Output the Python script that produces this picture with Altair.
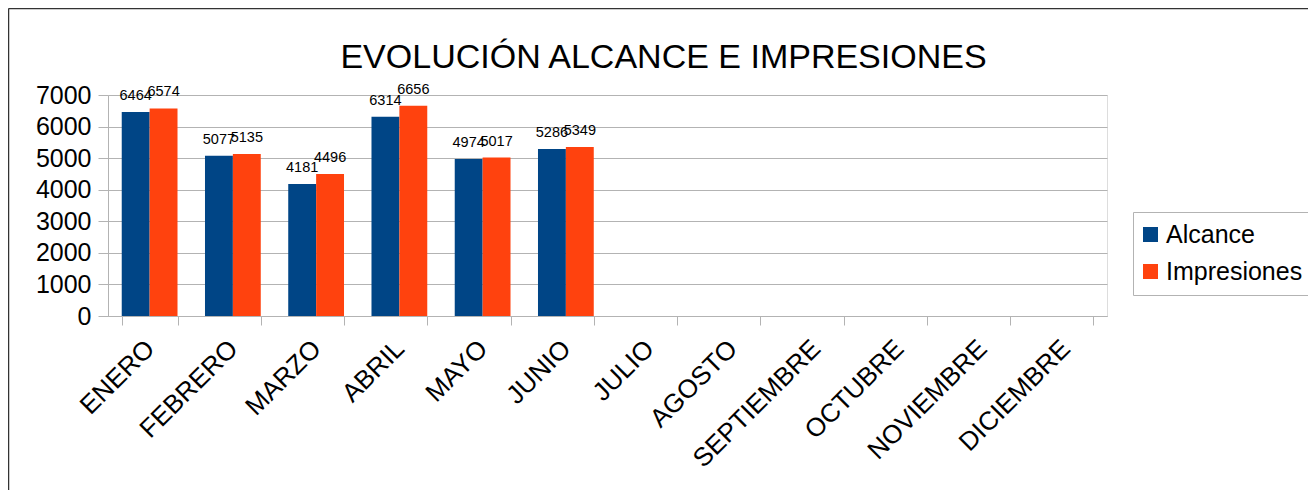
import altair as alt
import pandas as pd

meses = ["ENERO", "FEBRERO", "MARZO", "ABRIL", "MAYO", "JUNIO", "JULIO",
         "AGOSTO", "SEPTIEMBRE", "OCTUBRE", "NOVIEMBRE", "DICIEMBRE"]
alcance = [6464, 5077, 4181, 6314, 4974, 5286, None, None, None, None, None, None]
impresiones = [6574, 5135, 4496, 6656, 5017, 5349, None, None, None, None, None, None]
series = ["Alcance", "Impresiones"]
colores = ["#004586", "#ff420e"]
y_ticks = [0, 1000, 2000, 3000, 4000, 5000, 6000, 7000]

rows = []
for m, a, i in zip(meses, alcance, impresiones):
    if a is not None:
        rows.append({"mes": m, "serie": "Alcance", "valor": a})
    if i is not None:
        rows.append({"mes": m, "serie": "Impresiones", "valor": i})
df = pd.DataFrame(rows)

FONT = "Liberation Sans"
GRAY = "#b3b3b3"

x_enc = alt.X("mes:N", sort=meses,
              scale=alt.Scale(domain=meses, paddingInner=0.33, paddingOuter=0.165),
              axis=alt.Axis(title=None, tickBand="extent", tickSize=9, tickColor=GRAY,
                            domainColor=GRAY, labelAngle=-45, labelAlign="right",
                            labelBaseline="top", labelFontSize=26, labelFont=FONT,
                            labelColor="black", labelPadding=10, labelOffset=-9))
y_enc = alt.Y("valor:Q",
              scale=alt.Scale(domain=[0, 7000], nice=False),
              axis=alt.Axis(title=None, values=y_ticks, format="d", grid=True,
                            gridColor=GRAY, domainColor=GRAY, tickColor=GRAY, tickSize=10,
                            labelFontSize=25, labelFont=FONT, labelColor="black",
                            labelPadding=7))
off = alt.XOffset("serie:N", sort=series, scale=alt.Scale(paddingInner=0, paddingOuter=0))
color = alt.Color("serie:N", sort=series,
                  scale=alt.Scale(domain=series, range=colores),
                  legend=alt.Legend(title=None, orient="none", legendX=1025, legendY=117,
                                    strokeColor=GRAY, padding=10, symbolType="square",
                                    symbolSize=225, symbolStrokeWidth=0, symbolOffset=-5,
                                    labelFontSize=25, labelFont=FONT, labelColor="black",
                                    rowPadding=11, labelOffset=3, labelLimit=400))

bars = alt.Chart(df).mark_bar().encode(x=x_enc, xOffset=off, y=y_enc, color=color)
labels = alt.Chart(df).mark_text(baseline="bottom", dy=-9, fontSize=14.5, font=FONT,
                                 color="black").encode(
    x=x_enc, xOffset=off, y=y_enc, text=alt.Text("valor:Q"))

frame_data = pd.DataFrame({"k": [0]})
frame_top = alt.Chart(frame_data).mark_rule(color="#333333", strokeWidth=1.5).encode(
    x=alt.value(-99.5), x2=alt.value(1400), y=alt.value(-86.5))
frame_left = alt.Chart(frame_data).mark_rule(color="#333333", strokeWidth=1.5).encode(
    x=alt.value(-99.5), y=alt.value(-86.5), y2=alt.value(600))

chart = alt.layer(bars, labels, frame_top, frame_left).properties(
    width=999, height=221,
    autosize=alt.AutoSizeParams(type="none"),
    padding={"left": 100, "top": 87, "right": 201, "bottom": 174},
    title=alt.TitleParams("EVOLUCIÓN ALCANCE E IMPRESIONES", fontSize=34, font=FONT,
                          fontWeight="normal", color="black", anchor="middle",
                          dx=56, dy=94, offset=0, baseline="alphabetic"),
).configure_view(stroke=GRAY).configure(background="white")

chart.save("out.html", embed_options={"renderer": "svg", "actions": False})
